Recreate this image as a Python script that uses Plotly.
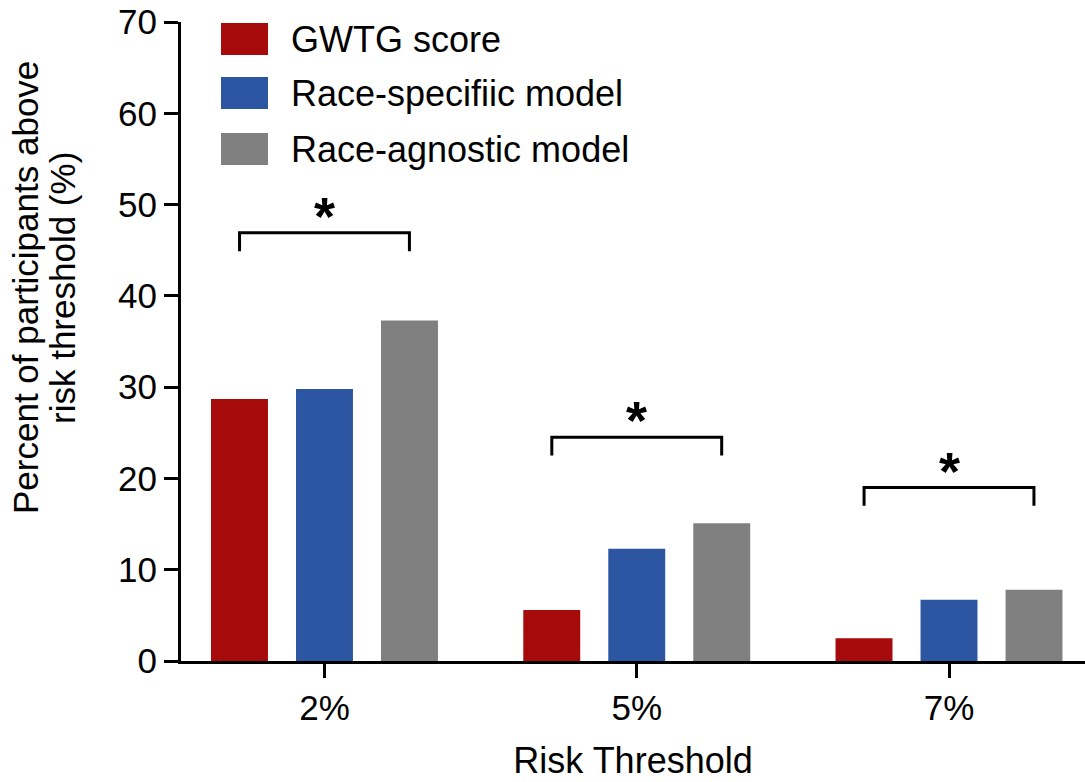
import plotly.graph_objects as go

categories = ["2%", "5%", "7%"]
series_names = ["GWTG score", "Race-specifiic model", "Race-agnostic model"]
gwtg = [28.7, 5.6, 2.5]
race_specific = [29.8, 12.3, 6.7]
race_agnostic = [37.3, 15.1, 7.8]
colors = ["#A60A0A", "#2C56A2", "#808080"]
y_ticks = [0, 10, 20, 30, 40, 50, 60, 70]
bracket_y = [46.9, 24.5, 19.0]
y_title_lines = ["Percent of participants above", "risk threshold (%)"]

FONT = "Liberation Sans, Arial, sans-serif"

fig = go.Figure()
for name, vals, col in zip(series_names, [gwtg, race_specific, race_agnostic], colors):
    fig.add_trace(go.Bar(x=categories, y=vals, name=name, marker=dict(color=col, line=dict(width=0)),
                         showlegend=False))

# significance brackets (red bar centre to grey bar centre)
off = 0.272
for i, by in enumerate(bracket_y):
    x0, x1 = i - off, i + off
    fig.add_shape(type="path",
                  path=f"M {x0},{by-2.0} L {x0},{by} L {x1},{by} L {x1},{by-2.0}",
                  xref="x", yref="y", line=dict(color="black", width=3))
    fig.add_annotation(x=i, y=by + 2.9, xref="x", yref="y", text="<b>*</b>", showarrow=False,
                       font=dict(family=FONT, size=54, color="black"), yanchor="middle", yshift=-9.5)

# legend drawn as squares + text
PW, PH, PL, PB = 904, 639, 181, 661
leg_y = [39, 93, 149]  # pixel centres from top
for name, col, yc in zip(series_names, colors, leg_y):
    fig.add_shape(type="rect", xref="paper", yref="paper",
                  x0=(221 - PL) / PW, x1=(268 - PL) / PW,
                  y0=(PB - (yc + 16)) / PH, y1=(PB - (yc - 16)) / PH,
                  fillcolor=col, line=dict(width=0))
    fig.add_annotation(xref="paper", yref="paper", x=(289 - PL) / PW, y=(PB - yc) / PH,
                       text=name, showarrow=False, xanchor="left", yanchor="middle",
                       font=dict(family=FONT, size=36, color="black"))

# y-axis title (two lines, tight spacing)
for line, xc in zip(y_title_lines, [25, 62]):
    fig.add_annotation(xref="paper", yref="paper", x=(xc - PL) / PW, y=(PB - 288) / PH,
                       text=line, textangle=-90, showarrow=False,
                       xanchor="center", yanchor="middle",
                       font=dict(family=FONT, size=35, color="black"))

fig.update_layout(
    width=1085, height=782,
    margin=dict(l=181, r=0, t=22, b=121, pad=0),
    paper_bgcolor="white", plot_bgcolor="white",
    barmode="group", bargap=0.1834, bargroupgap=0.33,
    font=dict(family=FONT, color="black"),
)
fig.update_xaxes(
    range=[-0.4595, 2.4355], showline=True, linecolor="black", linewidth=3,
    ticks="outside", ticklen=14, tickwidth=3, tickcolor="black",
    tickfont=dict(size=35), showgrid=False, zeroline=False,
    title=dict(text="Risk Threshold", font=dict(size=36), standoff=22),
)
fig.update_yaxes(
    range=[0, 70], tickvals=y_ticks, showline=True, linecolor="black", linewidth=3,
    ticks="outside", ticklen=14, tickwidth=3, tickcolor="black",
    tickfont=dict(size=35), showgrid=False, zeroline=False,
)

fig.write_html("out.html")
